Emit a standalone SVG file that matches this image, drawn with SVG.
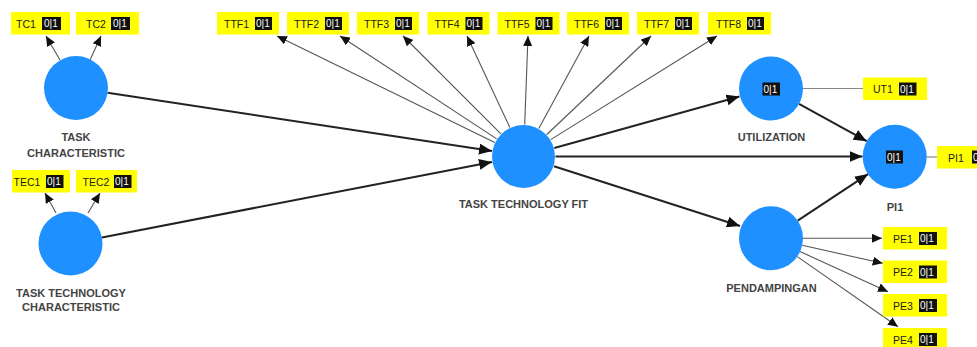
<svg xmlns="http://www.w3.org/2000/svg" width="977" height="347" viewBox="0 0 977 347">
<style>
.ind{fill:#ffff00}
.it{font-family:"Liberation Sans",Arial,sans-serif;font-size:10.5px;fill:#222}
.vb{fill:#111}
.vt{font-family:"Liberation Sans",Arial,sans-serif;font-size:10px;fill:#fff}
.lv{fill:#1e90ff}
.lab{font-family:"Liberation Sans",Arial,sans-serif;font-size:11px;font-weight:bold;fill:#444;text-anchor:middle}
.thin{stroke:#555;stroke-width:1.1;fill:none}
.thick{stroke:#222;stroke-width:2;fill:none}
.plain{stroke:#888;stroke-width:1.2;fill:none}
</style>
<defs>
<marker id="as" markerUnits="userSpaceOnUse" markerWidth="10" markerHeight="9" refX="10" refY="4.5" orient="auto"><path d="M0,0 L10,4.5 L0,9 z" fill="#111"/></marker>
<marker id="al" markerUnits="userSpaceOnUse" markerWidth="13" markerHeight="11" refX="13" refY="5.5" orient="auto"><path d="M0,0 L13,5.5 L0,11 z" fill="#111"/></marker>
</defs>
<rect width="977" height="347" fill="#fff"/>
<g id="connectors">
<line class="thin" x1="60" y1="60" x2="46" y2="36" marker-end="url(#as)"/>
<line class="thin" x1="90" y1="60" x2="101" y2="36" marker-end="url(#as)"/>
<line class="thin" x1="56" y1="213" x2="45" y2="193" marker-end="url(#as)"/>
<line class="thin" x1="88" y1="213" x2="100" y2="193" marker-end="url(#as)"/>
<line class="thin" x1="494.8" y1="142.5" x2="277" y2="36" marker-end="url(#as)"/>
<line class="thin" x1="496.7" y1="138.9" x2="340" y2="36" marker-end="url(#as)"/>
<line class="thin" x1="500.9" y1="133.9" x2="403" y2="36" marker-end="url(#as)"/>
<line class="thin" x1="509.9" y1="127.5" x2="467" y2="36" marker-end="url(#as)"/>
<line class="thin" x1="524.7" y1="124.5" x2="528" y2="36" marker-end="url(#as)"/>
<line class="thin" x1="538.8" y1="128.4" x2="589" y2="36" marker-end="url(#as)"/>
<line class="thin" x1="546.8" y1="134.5" x2="651" y2="36" marker-end="url(#as)"/>
<line class="thin" x1="550.7" y1="139.6" x2="717" y2="36" marker-end="url(#as)"/>
<line class="plain" x1="803" y1="88.5" x2="863" y2="88.5"/>
<line class="plain" x1="926.5" y1="157" x2="937" y2="157"/>
<line class="thin" x1="803" y1="238.3" x2="882" y2="238.3" marker-end="url(#as)"/>
<line class="thin" x1="802.2" y1="245.3" x2="882.7" y2="263.3" marker-end="url(#as)"/>
<line class="thin" x1="800.1" y1="251.6" x2="888" y2="291.7" marker-end="url(#as)"/>
<line class="thin" x1="797.3" y1="256.6" x2="898" y2="326.7" marker-end="url(#as)"/>
<line class="thick" x1="107.6" y1="92.8" x2="492" y2="151" marker-end="url(#al)"/>
<line class="thick" x1="101.9" y1="237.4" x2="492" y2="162" marker-end="url(#al)"/>
<line class="thick" x1="554.3" y1="148" x2="739.5" y2="96.5" marker-end="url(#al)"/>
<line class="thick" x1="555.5" y1="156.5" x2="862.5" y2="156.5" marker-end="url(#al)"/>
<line class="thick" x1="554" y1="166.3" x2="740" y2="226" marker-end="url(#al)"/>
<line class="thick" x1="799" y1="103.8" x2="866.7" y2="141.2" marker-end="url(#al)"/>
<line class="thick" x1="797.7" y1="220.7" x2="868" y2="174.1" marker-end="url(#al)"/>
</g>
<g id="tc">
<circle class="lv" cx="76" cy="88" r="32"/>
<text class="lab" x="76" y="141">TASK</text>
<text class="lab" x="76" y="157">CHARACTERISTIC</text>
</g>
<g id="tec">
<circle class="lv" cx="70.5" cy="243.5" r="32"/>
<text class="lab" x="71" y="297">TASK TECHNOLOGY</text>
<text class="lab" x="71" y="311">CHARACTERISTIC</text>
</g>
<g id="ttf">
<circle class="lv" cx="523.5" cy="156.5" r="31.5"/>
<text class="lab" x="523.5" y="208">TASK TECHNOLOGY FIT</text>
</g>
<g id="util">
<circle class="lv" cx="771" cy="88.5" r="32"/>
<rect class="vb" x="762.5" y="82.5" width="17.5" height="13"/>
<text class="vt" x="763.5" y="92.5">0|1</text>
<text class="lab" x="771.5" y="141">UTILIZATION</text>
</g>
<g id="pi">
<circle class="lv" cx="894.7" cy="156.7" r="32"/>
<rect class="vb" x="886" y="150.5" width="17" height="13"/>
<text class="vt" x="887" y="160.5">0|1</text>
<text class="lab" x="895" y="211">PI1</text>
</g>
<g id="pend">
<circle class="lv" cx="771" cy="238.3" r="32"/>
<text class="lab" x="771.5" y="292">PENDAMPINGAN</text>
</g>
<g id="ind-tc1"><rect class="ind" x="11" y="12" width="59" height="22.5"/><text class="it" x="16" y="27.5">TC1</text><rect class="vb" x="42" y="17" width="19" height="13"/><text class="vt" x="44" y="27">0|1</text></g>
<g id="ind-tc2"><rect class="ind" x="76" y="12" width="63" height="22.5"/><text class="it" x="86" y="27.5">TC2</text><rect class="vb" x="111" y="17" width="19" height="13"/><text class="vt" x="113" y="27">0|1</text></g>
<g id="ind-tec1"><rect class="ind" x="12" y="170" width="58" height="22.5"/><text class="it" x="13.5" y="185.5">TEC1</text><rect class="vb" x="46" y="175" width="17.5" height="13"/><text class="vt" x="47" y="185">0|1</text></g>
<g id="ind-tec2"><rect class="ind" x="76" y="170" width="61" height="22.5"/><text class="it" x="82.5" y="185.5">TEC2</text><rect class="vb" x="114" y="175" width="17.5" height="13"/><text class="vt" x="115" y="185">0|1</text></g>
<g id="ind-ttf1"><rect class="ind" x="217" y="12" width="62" height="22.5"/><text class="it" x="224" y="27.5">TTF1</text><rect class="vb" x="255" y="17" width="17" height="13"/><text class="vt" x="256" y="27">0|1</text></g>
<g id="ind-ttf2"><rect class="ind" x="287" y="12" width="62" height="22.5"/><text class="it" x="294" y="27.5">TTF2</text><rect class="vb" x="325" y="17" width="17" height="13"/><text class="vt" x="326" y="27">0|1</text></g>
<g id="ind-ttf3"><rect class="ind" x="357" y="12" width="62" height="22.5"/><text class="it" x="364" y="27.5">TTF3</text><rect class="vb" x="395" y="17" width="17" height="13"/><text class="vt" x="396" y="27">0|1</text></g>
<g id="ind-ttf4"><rect class="ind" x="427.5" y="12" width="62" height="22.5"/><text class="it" x="434.5" y="27.5">TTF4</text><rect class="vb" x="465.5" y="17" width="17" height="13"/><text class="vt" x="466.5" y="27">0|1</text></g>
<g id="ind-ttf5"><rect class="ind" x="497.5" y="12" width="62" height="22.5"/><text class="it" x="504.5" y="27.5">TTF5</text><rect class="vb" x="535.5" y="17" width="17" height="13"/><text class="vt" x="536.5" y="27">0|1</text></g>
<g id="ind-ttf6"><rect class="ind" x="567" y="12" width="62" height="22.5"/><text class="it" x="574" y="27.5">TTF6</text><rect class="vb" x="605" y="17" width="17" height="13"/><text class="vt" x="606" y="27">0|1</text></g>
<g id="ind-ttf7"><rect class="ind" x="637" y="12" width="62" height="22.5"/><text class="it" x="644" y="27.5">TTF7</text><rect class="vb" x="675" y="17" width="17" height="13"/><text class="vt" x="676" y="27">0|1</text></g>
<g id="ind-ttf8"><rect class="ind" x="708" y="12" width="63" height="22.5"/><text class="it" x="716" y="27.5">TTF8</text><rect class="vb" x="747" y="17" width="17" height="13"/><text class="vt" x="748" y="27">0|1</text></g>
<g id="ind-ut1"><rect class="ind" x="863" y="77.5" width="64" height="22.5"/><text class="it" x="873" y="93">UT1</text><rect class="vb" x="899" y="82.5" width="17.5" height="13"/><text class="vt" x="900" y="92.5">0|1</text></g>
<g id="ind-pi1"><rect class="ind" x="937" y="146" width="45" height="22.5"/><text class="it" x="948" y="161.5">PI1</text><rect class="vb" x="972" y="150.5" width="17.5" height="13"/><text class="vt" x="973" y="160.5">0|1</text></g>
<g id="ind-pe1"><rect class="ind" x="883" y="227" width="64" height="22.5"/><text class="it" x="893" y="242.5">PE1</text><rect class="vb" x="919" y="232" width="18" height="13"/><text class="vt" x="920" y="242">0|1</text></g>
<g id="ind-pe2"><rect class="ind" x="883" y="260.5" width="64" height="22.5"/><text class="it" x="893" y="276">PE2</text><rect class="vb" x="919" y="265.5" width="18" height="13"/><text class="vt" x="920" y="275.5">0|1</text></g>
<g id="ind-pe3"><rect class="ind" x="883" y="294" width="64" height="22.5"/><text class="it" x="893" y="309.5">PE3</text><rect class="vb" x="919" y="299" width="18" height="13"/><text class="vt" x="920" y="309">0|1</text></g>
<g id="ind-pe4"><rect class="ind" x="883" y="328" width="64" height="22.5"/><text class="it" x="893" y="343.5">PE4</text><rect class="vb" x="919" y="333" width="18" height="13"/><text class="vt" x="920" y="343">0|1</text></g>
</svg>
